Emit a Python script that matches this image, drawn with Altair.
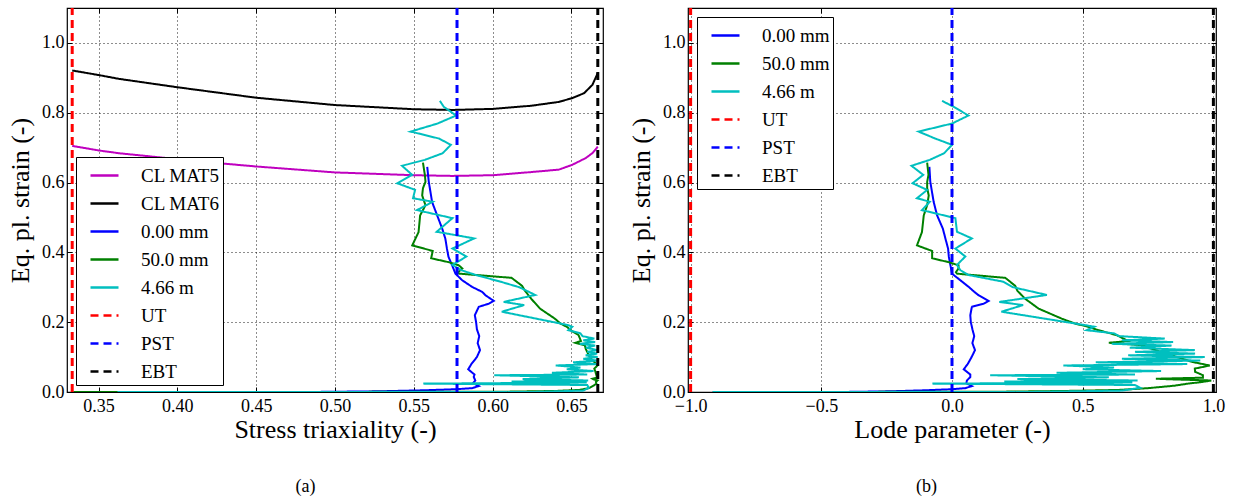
import altair as alt
import pandas as pd

FONT = "Liberation Serif"

# ---------------- data ----------------
# 0.00 mm : equivalent plastic strain, stress triaxiality, Lode parameter
S_BLUE = [0.000, 0.0003, 0.002, 0.005, 0.008, 0.011, 0.017, 0.025, 0.033, 0.043, 0.050, 0.065,
          0.080, 0.100, 0.120, 0.140, 0.160, 0.180, 0.200, 0.220, 0.244, 0.253, 0.261, 0.277,
          0.287, 0.301, 0.320, 0.339, 0.363, 0.387, 0.411, 0.439, 0.468, 0.506, 0.544, 0.602, 0.645]
T_BLUE = [0.362, 0.490, 0.528, 0.557, 0.577, 0.587, 0.5912, 0.5875, 0.589, 0.588, 0.5885, 0.5845,
          0.5865, 0.590, 0.592, 0.5905, 0.5915, 0.590, 0.5895, 0.5887, 0.5912, 0.5976, 0.6007, 0.5955,
          0.5933, 0.587, 0.5807, 0.5764, 0.5743, 0.572, 0.571, 0.570, 0.568, 0.5648, 0.5616, 0.5595, 0.5585]
L_BLUE = [-0.915, -0.40, -0.234, -0.10, 0.0, 0.051, 0.076, 0.055, 0.057, 0.070, 0.070, 0.045,
          0.060, 0.075, 0.088, 0.078, 0.085, 0.078, 0.072, 0.070, 0.076, 0.121, 0.140, 0.102,
          0.085, 0.064, 0.032, 0.0, -0.006, -0.012, -0.015, -0.025, -0.035, -0.057, -0.070, -0.083, -0.0865]

# 50.0 mm
S_GREEN = [0.000, 0.0002, 0.001, 0.003, 0.006, 0.011, 0.018, 0.024, 0.029, 0.033, 0.036, 0.038,
           0.041, 0.048, 0.058, 0.067, 0.076, 0.086, 0.096, 0.110, 0.124, 0.134, 0.141, 0.146,
           0.163, 0.177, 0.187, 0.196, 0.210, 0.239, 0.267, 0.290, 0.304, 0.327, 0.339, 0.343,
           0.354, 0.363, 0.372, 0.383, 0.404, 0.420, 0.458, 0.506, 0.535, 0.563, 0.584, 0.602,
           0.622, 0.657]
T_GREEN = [0.334, 0.500, 0.610, 0.640, 0.655, 0.661, 0.664, 0.6658, 0.6655, 0.6665, 0.664, 0.6633,
           0.6662, 0.6658, 0.6652, 0.6645, 0.6665, 0.6645, 0.662, 0.6605, 0.659, 0.6585, 0.6525, 0.656,
           0.6545, 0.6495, 0.647, 0.643, 0.6395, 0.630, 0.6245, 0.6205, 0.6187, 0.612, 0.579, 0.578,
           0.5808, 0.5785, 0.572, 0.561, 0.562, 0.549, 0.553, 0.554, 0.5574, 0.5553, 0.5558, 0.5574,
           0.557, 0.5558]
L_GREEN = [-0.915, -0.40, 0.20, 0.433, 0.64, 0.75, 0.85, 0.903, 0.96, 0.992, 0.85, 0.78,
           0.96, 0.96, 0.93, 0.929, 0.986, 0.92, 0.878, 0.82, 0.763, 0.73, 0.60, 0.674,
           0.63, 0.56, 0.52, 0.471, 0.42, 0.331, 0.28, 0.25, 0.242, 0.204, 0.019, 0.015,
           0.025, 0.025, -0.013, -0.076, -0.076, -0.134, -0.115, -0.108, -0.095, -0.089, -0.095, -0.095,
           -0.090, -0.095]

# 4.66 m
S_CYAN = [0.000, 0.0002, 0.004, 0.012, 0.020, 0.024, 0.027, 0.030, 0.033, 0.037, 0.042, 0.048,
          0.050, 0.055, 0.060, 0.065, 0.070, 0.076, 0.080, 0.085, 0.090, 0.095, 0.100, 0.105,
          0.110, 0.115, 0.120, 0.127, 0.133, 0.138, 0.143, 0.148, 0.153, 0.160, 0.168, 0.177,
          0.187, 0.192, 0.230, 0.249, 0.258, 0.278, 0.300, 0.316, 0.335, 0.349, 0.364, 0.388,
          0.411, 0.440, 0.459, 0.498, 0.521, 0.545, 0.555, 0.579, 0.598, 0.622, 0.648, 0.665,
          0.684, 0.708, 0.726, 0.746, 0.769, 0.792, 0.817, 0.834]
T_CYAN = [0.362, 0.626, 0.6575, 0.661, 0.660, 0.556, 0.6597, 0.612, 0.6606, 0.619, 0.6547, 0.601,
          0.660, 0.6376, 0.664, 0.647, 0.6557, 0.640, 0.666, 0.651, 0.6664, 0.6575, 0.6666, 0.659,
          0.6663, 0.660, 0.6663, 0.6592, 0.665, 0.6552, 0.665, 0.6575, 0.6645, 0.657, 0.6557, 0.648,
          0.6505, 0.6475, 0.6058, 0.620, 0.607, 0.627, 0.617, 0.605, 0.5895, 0.580, 0.5745, 0.5833,
          0.5745, 0.5883, 0.5645, 0.5745, 0.552, 0.562, 0.5495, 0.5508, 0.5395, 0.549, 0.5425, 0.557,
          0.5683, 0.5735, 0.566, 0.548, 0.565, 0.5768, 0.569, 0.5665]
L_CYAN = [-0.915, 0.30, 0.65, 0.72, 0.70, -0.075, 0.69, 0.20, 0.71, 0.25, 0.60, 0.146,
          0.70, 0.40, 0.80, 0.50, 0.62, 0.426, 0.90, 0.55, 0.95, 0.65, 0.967, 0.674,
          0.93, 0.70, 0.929, 0.68, 0.84, 0.611, 0.846, 0.65, 0.814, 0.64, 0.62, 0.515,
          0.544, 0.506, 0.189, 0.272, 0.181, 0.363, 0.234, 0.196, 0.064, 0.032, 0.019, 0.051,
          0.013, 0.076, 0.019, 0.013, -0.115, -0.085, -0.134, -0.095, -0.151, -0.110, -0.155, -0.085,
          -0.030, 0.0, -0.064, -0.128, 0.0, 0.063, 0.006, -0.038]

# fracture loci (left panel only)
CL5_T = [0.3333, 0.35, 0.363, 0.40, 0.43, 0.45, 0.50, 0.55, 0.5745, 0.60, 0.6245, 0.642, 0.6506, 0.659, 0.6635, 0.6667]
CL5_S = [0.705, 0.692, 0.684, 0.667, 0.654, 0.646, 0.629, 0.621, 0.619, 0.621, 0.630, 0.637, 0.651, 0.670, 0.685, 0.703]
CL6_T = [0.3333, 0.35, 0.363, 0.40, 0.45, 0.50, 0.55, 0.575, 0.60, 0.6245, 0.642, 0.6506, 0.658, 0.6633, 0.6667]
CL6_S = [0.921, 0.908, 0.897, 0.873, 0.843, 0.822, 0.810, 0.808, 0.811, 0.820, 0.831, 0.842, 0.856, 0.880, 0.914]

# reference states: uniaxial tension, plane strain tension, equi-biaxial tension
REF_NAMES = ["UT", "PST", "EBT"]
REF_TRIAX = [0.3333, 0.5774, 0.6667]
REF_LODE = [-1.0, 0.0, 1.0]
REF_S = [0.0, 1.1]

LEFT_NAMES = ["CL MAT5", "CL MAT6", "0.00 mm", "50.0 mm", "4.66 m", "UT", "PST", "EBT"]
LEFT_COLORS = ["#bf00bf", "#000000", "#0000ff", "#008000", "#00bfbf", "#ff0000", "#0000ff", "#000000"]
RIGHT_NAMES = ["0.00 mm", "50.0 mm", "4.66 m", "UT", "PST", "EBT"]
RIGHT_COLORS = ["#0000ff", "#008000", "#00bfbf", "#ff0000", "#0000ff", "#000000"]

X_TICKS_LEFT = [0.35, 0.40, 0.45, 0.50, 0.55, 0.60, 0.65]
X_TICKS_RIGHT = [-1.0, -0.5, 0.0, 0.5, 1.0]
Y_TICKS = [0.0, 0.2, 0.4, 0.6, 0.8, 1.0]

SOLID = [1, 0]
DASHED = [8, 5]
PANEL_H = 384


def frame(name, xs, ss):
    return pd.DataFrame({"series": name, "idx": list(range(len(xs))), "x": xs, "s": ss})


left_df = pd.concat([
    frame("CL MAT5", CL5_T, CL5_S),
    frame("CL MAT6", CL6_T, CL6_S),
    frame("0.00 mm", T_BLUE, S_BLUE),
    frame("50.0 mm", T_GREEN, S_GREEN),
    frame("4.66 m", T_CYAN, S_CYAN),
] + [frame(n, [v, v], REF_S) for n, v in zip(REF_NAMES, REF_TRIAX)], ignore_index=True)

right_df = pd.concat([
    frame("0.00 mm", L_BLUE, S_BLUE),
    frame("50.0 mm", L_GREEN, S_GREEN),
    frame("4.66 m", L_CYAN, S_CYAN),
] + [frame(n, [v, v], REF_S) for n, v in zip(REF_NAMES, REF_LODE)], ignore_index=True)


def legend(lx, ly):
    return alt.Legend(orient="none", legendX=lx, legendY=ly, title=None,
                      fillColor="white", strokeColor="black", padding=3, symbolOffset=10,
                      symbolType="stroke", symbolSize=784, symbolStrokeWidth=2.5,
                      labelFont=FONT, labelFontSize=19, labelColor="black",
                      labelOffset=21, rowPadding=2, cornerRadius=0)


def tick_axis(orient, offset, values, fmt):
    return alt.Axis(orient=orient, offset=offset, values=values, format=fmt, labels=False,
                    grid=False, domain=False, ticks=True, tickSize=5, tickColor="black",
                    tickWidth=1, title=None)


def panel(df, names, colors, xdom, xvals, xfmt, xtitle, width, lx, ly, caption):
    dashes = [DASHED if n in REF_NAMES else SOLID for n in names]
    color = alt.Color("series:N", scale=alt.Scale(domain=names, range=colors), legend=legend(lx, ly))
    sdash = alt.StrokeDash("series:N", scale=alt.Scale(domain=names, range=dashes), legend=legend(lx, ly))
    xscale = alt.Scale(domain=xdom, nice=False, zero=False)
    yscale = alt.Scale(domain=[0, 1.1], nice=False)
    x_axes = [
        alt.Axis(orient="bottom", values=xvals, format=xfmt, title=xtitle, labelPadding=5),
        tick_axis("bottom", -PANEL_H, xvals, xfmt),   # inward ticks on the top edge
        tick_axis("top", -PANEL_H, xvals, xfmt),      # inward ticks on the bottom edge
    ]
    y_axes = [
        alt.Axis(orient="left", values=Y_TICKS, format=".1f", title="Eq. pl. strain (-)", labelPadding=3),
        tick_axis("left", -width, Y_TICKS, ".1f"),    # inward ticks on the right edge
        tick_axis("right", -width, Y_TICKS, ".1f"),   # inward ticks on the left edge
    ]
    layers = []
    for i, n in enumerate(names):
        w = 3 if n in REF_NAMES else 2
        xa = x_axes[i] if i < 3 else None
        ya = y_axes[i] if i < 3 else None
        layers.append(
            alt.Chart(df).transform_filter(alt.datum.series == n)
            .mark_line(strokeWidth=w, clip=True)
            .encode(x=alt.X("x:Q", scale=xscale, axis=xa),
                    y=alt.Y("s:Q", scale=yscale, axis=ya),
                    color=color, strokeDash=sdash, order="idx:Q")
        )
    return alt.layer(*layers).resolve_axis(x="independent", y="independent").properties(
        width=width, height=PANEL_H,
        title=alt.TitleParams(caption, orient="bottom", anchor="middle", frame="bounds",
                              font=FONT, fontSize=18, fontWeight="normal", color="black",
                              offset=33, dy=3),
    )


left = panel(left_df, LEFT_NAMES, LEFT_COLORS, [0.33, 0.67], X_TICKS_LEFT, ".2f",
             "Stress triaxiality (-)", 536, 9, 149, "(a)")
right = panel(right_df, RIGHT_NAMES, RIGHT_COLORS, [-1.01, 1.01], X_TICKS_RIGHT, ".1f",
              "Lode parameter (-)", 528, 9, 9, "(b)")

chart = (
    alt.hconcat(left, right, spacing=85, bounds="flush")
    .resolve_scale(color="independent", strokeDash="independent")
    .resolve_legend(color="independent", strokeDash="independent")
    .properties(padding={"left": 6, "top": 6, "right": 5, "bottom": 5}, background="white")
    .configure_axis(labelFont=FONT, labelFontSize=18, labelColor="black",
                    titleFont=FONT, titleFontSize=26, titleFontWeight="normal", titleColor="black",
                    grid=True, gridColor="black", gridDash=[1, 3], gridWidth=0.9, gridOpacity=1,
                    domain=False, ticks=False)
    .configure_axisX(titlePadding=1)
    .configure_axisY(titlePadding=8)
    .configure_view(stroke="black", strokeWidth=1.2)
)

chart.save("out.html", embed_options={"renderer": "svg", "actions": False})
